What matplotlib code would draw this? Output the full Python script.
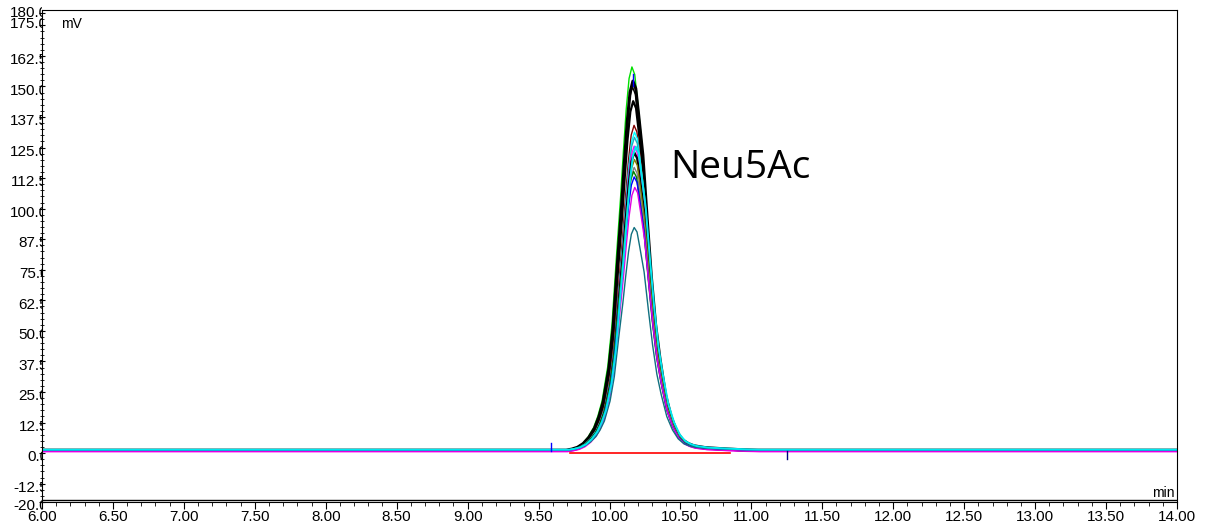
import numpy as np
import matplotlib
matplotlib.use("Agg")
import matplotlib.pyplot as plt
from matplotlib.transforms import Bbox, ScaledTranslation

plt.rcParams['font.family'] = ['Liberation Sans', 'DejaVu Sans']

# peak shape (fraction of apex height)
shape_t = [9.70, 9.74, 9.78, 9.82, 9.86, 9.90, 9.93, 9.96, 10.00, 10.03, 10.06,
           10.09, 10.11, 10.13, 10.15, 10.17, 10.19, 10.21, 10.24, 10.27, 10.30,
           10.33, 10.36, 10.40, 10.44, 10.48, 10.52, 10.56, 10.60, 10.68, 10.80,
           10.95, 11.05]
shape_f = [0.0, 0.003, 0.008, 0.018, 0.035, 0.06, 0.09, 0.13, 0.22, 0.33, 0.50,
           0.66, 0.78, 0.89, 0.97, 1.0, 0.98, 0.91, 0.80, 0.63, 0.47,
           0.34, 0.25, 0.15, 0.09, 0.05, 0.028, 0.018, 0.012, 0.007, 0.004,
           0.001, 0.0]

# one entry per injection
heights = [157, 151, 149, 143, 133, 130, 128, 125, 122, 119, 116, 114, 112, 108, 91, 124]
shifts = [-0.012, -0.005, -0.008, -0.003, 0.003, 0.006, 0.006, 0.004, 0.005, 0.006, 0.004,
          0.0, 0.004, 0.008, 0.004, 0.015]
offsets = [1.0, 1.2, 0.8, 1.0, 1.1, 1.3, 1.2, 0.6, 1.0, 1.1, 0.9, 1.2, 1.0, 0.7, 1.3, 1.4]
colors = ['#00e000', 'black', 'black', 'black', '#800000', '#00ffff', '#20b0c0',
          '#ff00ff', 'black', '#808000', '#808080', '#008000', '#0000ff',
          '#e000e0', '#107080', '#00e8f0']
widths = [1.0, 2.2, 1.0, 1.6, 1.0, 1.0, 1.0, 1.0, 1.6, 1.0, 1.0, 1.0, 1.0, 1.0, 1.0, 1.4]

yticks = [180.0, 175.0, 162.5, 150.0, 137.5, 125.0, 112.5, 100.0, 87.5, 75.0,
          62.5, 50.0, 37.5, 25.0, 12.5, 0.0, -12.5, -20.0]
xticks = [6.0, 6.5, 7.0, 7.5, 8.0, 8.5, 9.0, 9.5, 10.0, 10.5, 11.0, 11.5,
          12.0, 12.5, 13.0, 13.5, 14.0]

fig = plt.figure(figsize=(12.05, 5.3), dpi=100)
ax = fig.add_axes([42 / 1205, 28 / 530, (1177 - 42) / 1205, (502 - 9.5) / 530])

for h, s, o, c, w in zip(heights, shifts, offsets, colors, widths):
    t = [6.0] + [v + s for v in shape_t] + [14.0]
    y = [o] + [o + h * f for f in shape_f] + [o]
    ax.plot(t, y, color=c, lw=w)

# integration baseline and markers
ax.plot([9.72, 10.85], [0, 0], color='red', lw=1.2)
ax.plot([9.59, 9.59], [1, 4], color='blue', lw=1)
ax.plot([11.25, 11.25], [1, -2.5], color='#000080', lw=1)
ax.plot([10.165, 10.165], [150, 155], color='blue', lw=1)

ax.set_xlim(6, 14)
ax.set_ylim(-20, 181.5)
ax.axhline(-19.0, color='black', lw=1)

ax.set_xticks(xticks)
ax.set_xticklabels([f"{v:.2f}" for v in xticks], fontsize=11)
ax.set_xticks(np.arange(6.0, 14.01, 0.1), minor=True)
ax.tick_params(axis='x', which='major', direction='out', length=5, pad=1)
ax.tick_params(axis='x', which='minor', direction='out', length=3)

ax.set_yticks(yticks)
ax.set_yticklabels([])
ax.set_yticks(np.arange(-20, 181.5, 2.5), minor=True)
ax.tick_params(axis='y', which='major', direction='inout', length=5)
ax.tick_params(axis='y', which='minor', direction='inout', length=3)

# y labels run under the left frame and get cut by it
fig.canvas.draw()
x_left = ax.get_window_extent().x0
clip = Bbox([[0, 0], [x_left - 0.5, fig.bbox.height]])
nudge = {180.0: 0, 175.0: 1}
for v in yticks:
    dy = nudge.get(v, -3)
    tr = ax.get_yaxis_transform() + ScaledTranslation(4.5 / 72, dy / 72, fig.dpi_scale_trans)
    txt = ax.text(0, v, f"{v:.1f}", transform=tr, ha='right', va='center', fontsize=11)
    txt.set_clip_box(clip)
    txt.set_clip_on(True)

ax.text(0.017, 0.985, "mV", transform=ax.transAxes, ha='left', va='top', fontsize=10)
ax.text(0.998, 0.005, "min", transform=ax.transAxes, ha='right', va='bottom', fontsize=10)
ax.text(10.426, 112.5, "Neu5Ac", fontsize=28, va='baseline',
        family=['Open Sans', 'DejaVu Sans'])

fig.savefig("out.png", dpi=100)
